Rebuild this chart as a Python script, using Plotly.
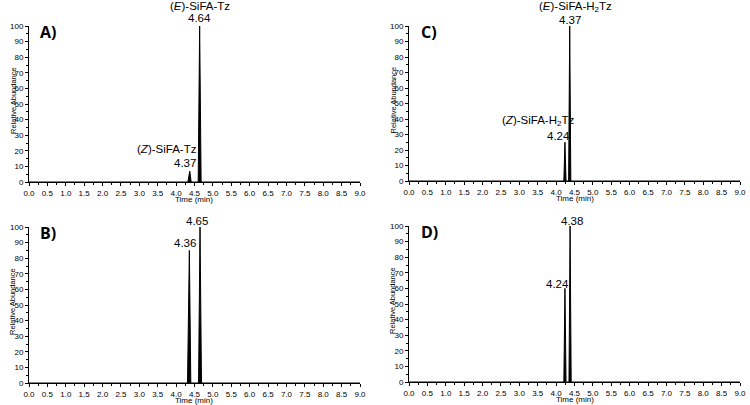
import plotly.graph_objects as go

# Chromatogram traces (time in min, relative abundance %)
A_time = [0.0, 4.32, 4.37, 4.41, 4.60, 4.64, 4.68, 9.0]
A_abund = [0, 0, 7, 0, 0, 100, 0, 0]
B_time = [0.0, 4.31, 4.36, 4.40, 4.61, 4.65, 4.69, 9.0]
B_abund = [0, 0, 85, 0, 0, 100, 0, 0]
C_time = [0.0, 4.21, 4.24, 4.27, 4.34, 4.37, 4.40, 9.0]
C_abund = [0, 0, 25, 0, 0, 100, 0, 0]
D_time = [0.0, 4.21, 4.24, 4.27, 4.35, 4.38, 4.41, 9.0]
D_abund = [0, 0, 60, 0, 0, 100, 0, 0]

x_ticks = [i * 0.5 for i in range(19)]
x_labels = [f"{v:.1f}" for v in x_ticks]
y_ticks = list(range(0, 101, 10))

W, H = 750, 405


def fx(p):
    return p / W


def fy(p):
    return 1 - p / H


panels = [
    ("A)", A_time, A_abund, [fx(29), fx(360)], [fy(182), fy(26)]),
    ("C)", C_time, C_abund, [fx(409), fx(740)], [fy(181), fy(26)]),
    ("B)", B_time, B_abund, [fx(29), fx(360)], [fy(383), fy(227)]),
    ("D)", D_time, D_abund, [fx(409), fx(740)], [fy(382), fy(226)]),
]

fig = go.Figure()
FONT = "Liberation Sans, Arial, sans-serif"
layout = dict(
    width=W, height=H, margin=dict(l=0, r=0, t=0, b=0, autoexpand=False),
    paper_bgcolor="white", plot_bgcolor="white", showlegend=False,
    font=dict(family=FONT, color="black"),
)
annotations = []
for i, (lab, t, a, xd, yd) in enumerate(panels):
    n = "" if i == 0 else str(i + 1)
    xa, ya = "x" + n, "y" + n
    fig.add_trace(go.Scatter(x=t, y=a, mode="lines", line=dict(color="black", width=1),
                             xaxis=xa, yaxis=ya, fill="tozeroy", fillcolor="black",
                             hoverinfo="skip"))
    layout["xaxis" + n] = dict(
        domain=xd, anchor=ya, range=[0, 9], tickvals=x_ticks, ticktext=x_labels,
        showgrid=False, zeroline=False, showline=True, linecolor="black", linewidth=1,
        ticks="outside", ticklen=3, tickcolor="black", tickfont=dict(size=8, family=FONT),
        minor=dict(dtick=0.25, ticks="outside", ticklen=2, tickcolor="black"),
        automargin=False, fixedrange=True,
    )
    layout["yaxis" + n] = dict(
        domain=yd, anchor=xa, range=[0, 100], tickvals=y_ticks,
        showgrid=False, zeroline=False, showline=True, linecolor="black", linewidth=1,
        ticks="outside", ticklen=3, tickcolor="black", tickfont=dict(size=8, family=FONT),
        minor=dict(dtick=5, ticks="outside", ticklen=2, tickcolor="black"),
        automargin=False, fixedrange=True,
    )
    # y-axis title
    annotations.append(dict(text="Relative Abundance", xref="paper", yref="paper",
                            x=xd[0] - 16 / W, y=(yd[0] + yd[1]) / 2 + 3 / H, textangle=-90,
                            showarrow=False, font=dict(size=7.5), xanchor="center", yanchor="middle"))
    # x-axis title
    annotations.append(dict(text="Time (min)", xref="paper", yref="paper",
                            x=(xd[0] + xd[1]) / 2, y=yd[0] - 17.5 / H, showarrow=False,
                            font=dict(size=8), xanchor="center", yanchor="middle"))
    # panel label
    annotations.append(dict(text="<b>" + lab + "</b>", xref="paper", yref="paper",
                            x=xd[0] + (9 if i % 2 == 0 else 10) / W, y=yd[1] - 6 / H,
                            showarrow=False, font=dict(size=16, family="Open Sans, sans-serif"),
                            xanchor="left", yanchor="middle"))


def add(text, k, x, y, size=11.5):
    xd, yd = panels[k][3], panels[k][4]
    px = xd[0] + x / 9 * (xd[1] - xd[0])
    py = yd[0] + y / 100 * (yd[1] - yd[0])
    annotations.append(dict(text=text, xref="paper", yref="paper", x=px, y=py, showarrow=False,
                            font=dict(size=size), xanchor="center", yanchor="middle"))


add("(<i>E</i>)-SiFA-Tz", 0, 4.64, 113)
add("4.64", 0, 4.64, 105)
add("(<i>Z</i>)-SiFA-Tz", 0, 3.75, 21)
add("4.37", 0, 4.24, 12)

add("(<i>E</i>)-SiFA-H<sub>2</sub>Tz", 1, 4.53, 112)
add("4.37", 1, 4.39, 104)
add("(<i>Z</i>)-SiFA-H<sub>2</sub>Tz", 1, 3.52, 39)
add("4.24", 1, 4.07, 29)

add("4.36", 2, 4.24, 90)
add("4.65", 2, 4.57, 104)

add("4.38", 3, 4.42, 103)
add("4.24", 3, 4.04, 63)

layout["annotations"] = annotations
fig.update_layout(**layout)
fig.write_html("out.html", config={"displayModeBar": False},
               post_script="document.body.style.margin='0px';")
